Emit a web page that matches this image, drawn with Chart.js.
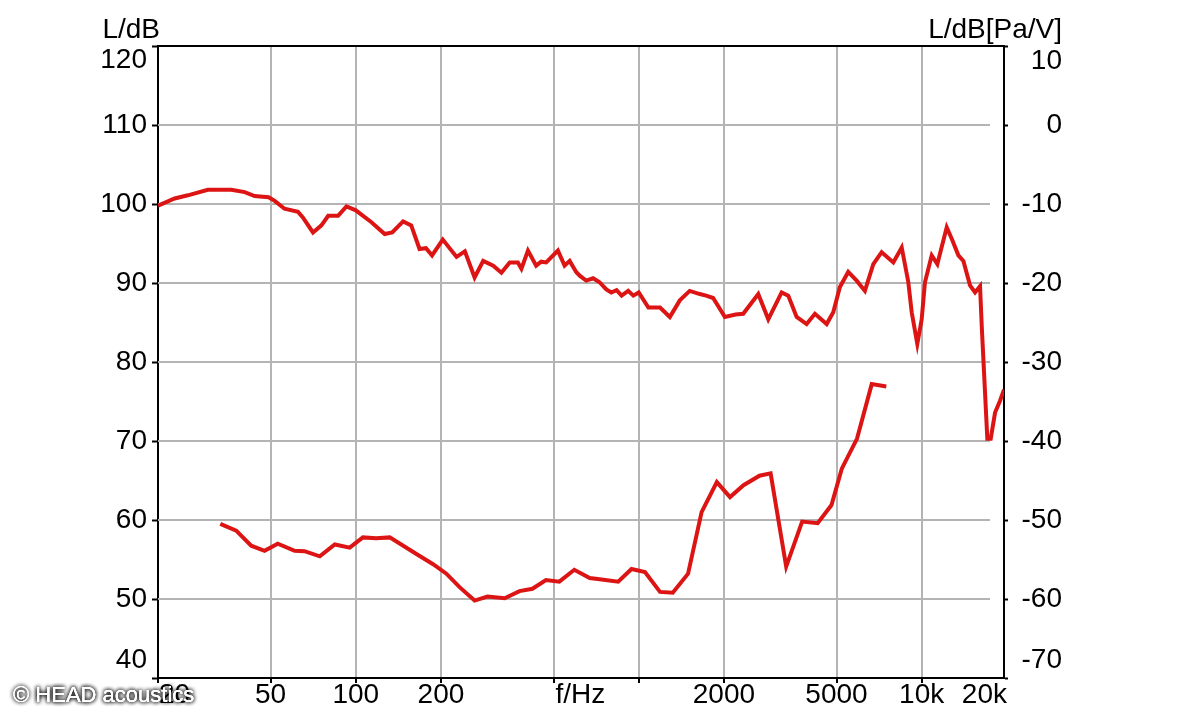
<!DOCTYPE html>
<html><head><meta charset="utf-8">
<script src="https://cdn.jsdelivr.net/npm/chart.js@4.4.1/dist/chart.umd.min.js"></script>
<style>html,body{margin:0;padding:0;background:#fff;}#wrap{width:1200px;height:719px;position:relative;}</style>
</head><body><div id="wrap"><canvas id="c" width="1200" height="719"></canvas></div>
<script>
// ---- data ----
const upperFreq = [20,22.9,25.5,30,36.3,40.5,43.9,49.2,51.7,56,62.5,65,70.6,75.6,79.9,86.6,92.7,100,113.6,126.5,134.5,147,157,168,177,186,203,227,243,263,282,306,327,350,374,385,406,434,452,471,518,547,570,601,620,652,690,727,768,800,835,870,918,957,1000,1082,1189,1288,1397,1514,1644,1731,1832,2016,2200,2340,2645,2870,3200,3376,3615,3920,4195,4615,4870,5140,5500,5890,6300,6745,7220,7940,8500,8970,9220,9650,10000,10270,10850,11360,12260,12770,13480,14040,14820,15440,16080,16300,16520,16740,17060,17540,18170,18920,19540];
const upperLevel = [99.8,100.7,101.1,101.8,101.8,101.5,101.0,100.85,100.4,99.4,99.0,98.3,96.4,97.3,98.5,98.5,99.7,99.2,97.7,96.2,96.4,97.8,97.3,94.3,94.4,93.5,95.5,93.3,94.0,90.7,92.8,92.2,91.3,92.6,92.6,91.8,94.1,92.2,92.7,92.6,94.1,92.2,92.8,91.4,90.9,90.3,90.6,90.1,89.2,88.8,89.1,88.4,89.0,88.4,88.8,86.9,86.9,85.7,87.8,89.0,88.6,88.4,88.1,85.7,86.0,86.1,88.6,85.4,88.8,88.4,85.7,84.8,86.1,84.8,86.3,89.5,91.4,90.3,89.0,92.4,93.9,92.6,94.5,90.1,86.3,82.3,85.4,90.1,93.5,92.4,97.05,95.6,93.5,92.8,89.7,88.8,89.6,84.6,80.4,76.2,70.3,70.3,73.6,75.1,76.5];
const lowerFreq = [33.2,37.8,42.7,47.6,53,60.8,65.9,74.6,84.3,95.2,106,118,131.8,163.8,187.6,209,232.7,263,292,336,379,421,470,524,592,671,727,846,943,1052,1189,1319,1494,1668,1888,2102,2346,2672,2925,3320,3780,4290,4800,5220,5910,6660,7500];
const lowerLevel = [59.5,58.65,56.75,56.1,57.0,56.1,56.05,55.4,56.9,56.5,57.8,57.7,57.8,55.7,54.4,53.2,51.5,49.8,50.3,50.1,51.0,51.3,52.4,52.2,53.7,52.65,52.5,52.2,53.8,53.4,50.9,50.8,53.2,61.0,64.8,62.9,64.4,65.6,65.9,54.1,59.8,59.6,61.9,66.5,70.3,77.2,76.9];

const xTicks = [20,50,100,200,500,1000,2000,5000,10000];
const xTickLabels = ['','50','100','200','','','2000','5000','10k'];
const xEdgeLabels = {first:'20', last:'20k', axis:'f/Hz'};
const leftTicks = [40,50,60,70,80,90,100,110,120];
const rightTicks = [-70,-60,-50,-40,-30,-20,-10,0,10];
const gridLevels = [50,60,70,80,90,100,110];
const leftTitle = 'L/dB';
const rightTitle = 'L/dB[Pa/V]';
const copyright = '\u00A9 HEAD acoustics';

const FONT = '"Liberation Sans", Arial, sans-serif';
const FS = 28;
const RED = '#dc1414';
const GRID = '#b4b4b4';

Chart.defaults.font.family = FONT;
Chart.defaults.font.size = FS;
Chart.defaults.color = '#000';

function pts(fs, ls){ return fs.map((f,i)=>({x:f, y:ls[i]})); }

const decor = {
  id:'decor',
  beforeDatasetsDraw(chart){
    const {ctx, chartArea:a, scales:{y}} = chart;
    ctx.save();
    ctx.strokeStyle = GRID; ctx.lineWidth = 2;
    gridLevels.forEach(v=>{
      const py = Math.round(y.getPixelForValue(v));
      ctx.beginPath(); ctx.moveTo(a.left, py); ctx.lineTo(a.right-14, py); ctx.stroke();
    });
    ctx.restore();
  },
  afterDraw(chart){
    const {ctx, chartArea:a, scales:{x,y,y2}} = chart;
    ctx.save();
    ctx.strokeStyle = '#000'; ctx.lineWidth = 2;
    ctx.beginPath(); ctx.moveTo(a.left-1, a.top); ctx.lineTo(a.right+1, a.top); ctx.stroke();
    ctx.fillStyle = '#000';
    ctx.font = FS + 'px ' + FONT;
    ctx.textBaseline = 'middle';
    ctx.textAlign = 'right';
    ctx.fillText(String(leftTicks[leftTicks.length-1]), a.left-11, y.getPixelForValue(leftTicks[leftTicks.length-1])+14);
    ctx.fillText(String(leftTicks[0]), a.left-11, y.getPixelForValue(leftTicks[0])-18);
    ctx.fillText(String(rightTicks[rightTicks.length-1]), y2.right, y2.getPixelForValue(rightTicks[rightTicks.length-1])+15);
    ctx.fillText(String(rightTicks[0]), y2.right, y2.getPixelForValue(rightTicks[0])-18);
    const ly = a.bottom + 17;
    ctx.textAlign = 'left';
    ctx.fillText(xEdgeLabels.first, x.getPixelForValue(20)+1, ly);
    ctx.fillText(xEdgeLabels.axis, x.getPixelForValue(500)+2, ly);
    ctx.textAlign = 'right';
    ctx.fillText(xEdgeLabels.last, a.right+3, ly);
    ctx.textBaseline = 'alphabetic';
    ctx.textAlign = 'right';
    ctx.fillText(leftTitle, a.left+2, 38);
    ctx.fillText(rightTitle, y2.right, 38);
    ctx.font = '22px ' + FONT;
    ctx.textAlign = 'left'; ctx.textBaseline = 'middle';
    ctx.shadowColor = 'rgba(0,0,0,0.85)'; ctx.shadowBlur = 4;
    ctx.fillStyle = '#ffffff';
    for (let k=0;k<3;k++) ctx.fillText(copyright, 13, 696);
    ctx.shadowBlur = 0;
    ctx.fillText(copyright, 13, 696);
    ctx.restore();
  }
};

new Chart(document.getElementById('c'), {
  type:'line',
  data:{datasets:[
    {data:pts(upperFreq, upperLevel), borderColor:RED, borderWidth:4, pointRadius:0, tension:0, yAxisID:'y'},
    {data:pts(lowerFreq, lowerLevel), borderColor:RED, borderWidth:4, pointRadius:0, tension:0, yAxisID:'y'}
  ]},
  options:{
    responsive:false, animation:false, devicePixelRatio:1,
    layout:{padding:{top:46,left:0,right:138,bottom:0}},
    plugins:{legend:{display:false}, tooltip:{enabled:false}},
    scales:{
      x:{type:'logarithmic', position:'bottom', min:20, max:19540,
        afterBuildTicks:(s)=>{ s.ticks = xTicks.map(v=>({value:v})); },
        afterFit:(s)=>{ s.height = 41; },
        ticks:{autoSkip:false, maxRotation:0, minRotation:0, padding:-2, font:{size:FS, lineHeight:1},
          callback:(v,i)=>xTickLabels[i]},
        grid:{color:(c)=> (c.tick && c.tick.value===20) ? 'rgba(0,0,0,0)' : GRID, lineWidth:2, tickColor:'#000', tickLength:5, tickWidth:2},
        border:{display:true, color:'#000', width:2}
      },
      y:{type:'linear', position:'left', min:40, max:120,
        afterBuildTicks:(s)=>{ s.ticks = leftTicks.map(v=>({value:v})); },
        afterFit:(s)=>{ s.width = 158; },
        ticks:{padding:5, callback:(v)=> (v===leftTicks[0]||v===leftTicks[leftTicks.length-1]) ? '' : String(v)},
        grid:{drawOnChartArea:false, tickColor:'#000', tickLength:6, tickWidth:2},
        border:{display:true, color:'#000', width:2}
      },
      y2:{type:'linear', position:'right', min:-70, max:10,
        afterBuildTicks:(s)=>{ s.ticks = rightTicks.map(v=>({value:v})); },
        afterFit:(s)=>{ s.width = 58; },
        ticks:{padding:10, crossAlign:'far', callback:(v)=> (v===rightTicks[0]||v===rightTicks[rightTicks.length-1]) ? '' : String(v)},
        grid:{drawOnChartArea:false, tickColor:'#000', tickLength:4, tickWidth:2},
        border:{display:true, color:'#000', width:2}
      }
    }
  },
  plugins:[decor]
});
</script></body></html>
